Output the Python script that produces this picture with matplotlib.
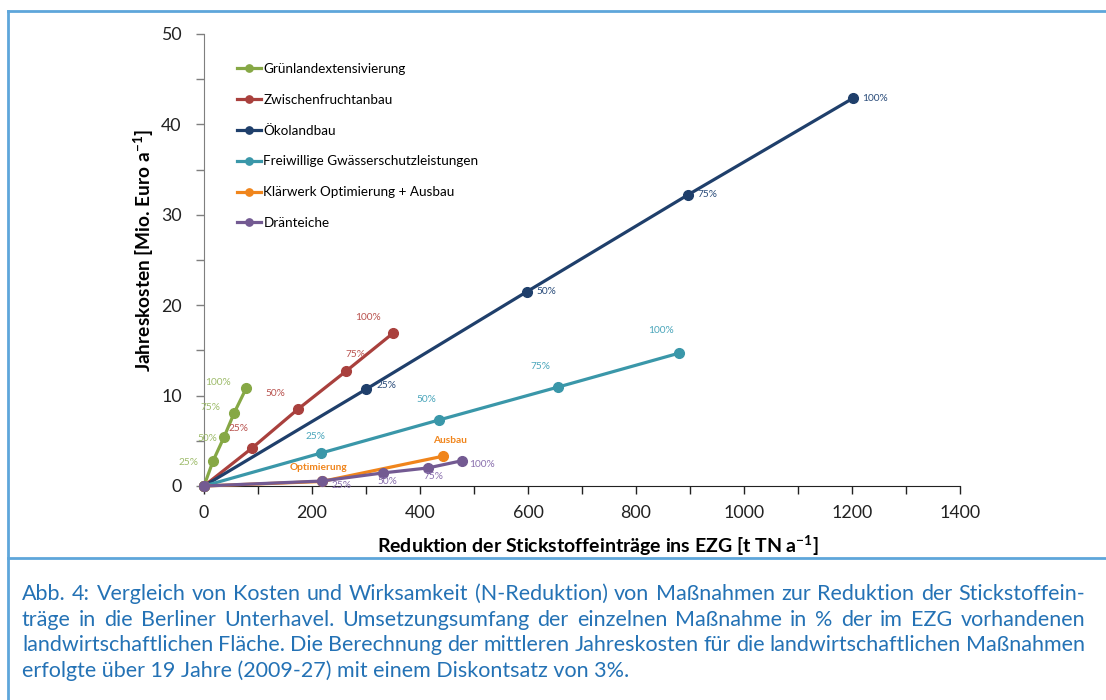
import matplotlib
matplotlib.use("Agg")
import matplotlib.pyplot as plt
from matplotlib.lines import Line2D

plt.rcParams['font.family'] = ['Lato', 'DejaVu Sans']
plt.rcParams['mathtext.fontset'] = 'custom'
plt.rcParams['mathtext.rm'] = 'Lato'
plt.rcParams['mathtext.bf'] = 'Lato:bold'

# data: N-Reduktion [t TN/a] and Jahreskosten [Mio. Euro/a]
series_names = ["Grünlandextensivierung", "Zwischenfruchtanbau", "Ökolandbau",
                "Freiwillige Gwässerschutzleistungen", "Klärwerk Optimierung + Ausbau",
                "Dränteiche"]
gruen_x = [0, 17, 37, 56, 78]
gruen_y = [0, 2.8, 5.4, 8.1, 10.8]
zwisch_x = [0, 89, 174, 263, 350]
zwisch_y = [0, 4.2, 8.5, 12.7, 16.9]
oeko_x = [0, 300, 598, 896, 1202]
oeko_y = [0, 10.7, 21.5, 32.2, 42.9]
frei_x = [0, 217, 435, 656, 880]
frei_y = [0, 3.65, 7.3, 10.95, 14.7]
klaer_x = [0, 218, 443]
klaer_y = [0, 0.5, 3.3]
draen_x = [0, 218, 332, 415, 478]
draen_y = [0, 0.55, 1.45, 2.0, 2.8]
pct_labels = ["25%", "50%", "75%", "100%"]
klaer_labels = ["Optimierung", "Ausbau"]

caption = [
    "Abb. 4: Vergleich von Kosten und Wirksamkeit (N-Reduktion) von Maßnahmen zur Reduktion der Stickstoffein-",
    "träge in die Berliner Unterhavel. Umsetzungsumfang der einzelnen Maßnahme in % der im EZG vorhandenen",
    "landwirtschaftlichen Fläche. Die Berechnung der mittleren Jahreskosten für die landwirtschaftlichen Maßnahmen",
    "erfolgte über 19 Jahre (2009-27) mit einem Diskontsatz von 3%.",
]

line_cols = ["#86A845", "#A9403D", "#1F3F6B", "#3A97A9", "#F0851C", "#735A92"]
lab_cols = ["#9DBB6A", "#B9534F", "#2A4C7A", "#4BA6BB", "#F0851C", "#8A70AE"]

fig = plt.figure(figsize=(11.06, 7.0), dpi=100)
ax = fig.add_axes([204 / 1106, 1 - 486 / 700, 756 / 1106, 452 / 700])

data = [(gruen_x, gruen_y), (zwisch_x, zwisch_y), (oeko_x, oeko_y),
        (frei_x, frei_y), (klaer_x, klaer_y), (draen_x, draen_y)]
for (xs, ys), name, c in zip(data, series_names, line_cols):
    ax.plot(xs, ys, color=c, lw=2.3, marker='o', ms=7, label=name, clip_on=False, zorder=3)

# percent labels (offsets in points)
def pct(xs, ys, offs, col, labels=pct_labels, **kw):
    for x, y, t, o in zip(xs[1:], ys[1:], labels, offs):
        ax.annotate(t, (x, y), xytext=o, textcoords='offset points', color=col,
                    fontsize=7.3, ha='center', va='center', **kw)

pct(gruen_x, gruen_y, [(-18, -1), (-12, -1), (-17, 4), (-20, 4)], lab_cols[0])
pct(zwisch_x, zwisch_y, [(-10, 14), (-16, 11), (7, 12), (-18, 11)], lab_cols[1])
pct(oeko_x, oeko_y, [(15, 3), (14, 0), (14, 0), (16, 0)], lab_cols[2])
pct(frei_x, frei_y, [(-4, 12), (-9, 15), (-13, 15), (-13, 16)], lab_cols[3])
pct(draen_x, draen_y, [(14, -3), (3, -6), (4, -6), (14, -3)], lab_cols[5])
pct(klaer_x, klaer_y, [(-2, 10), (5, 11)], lab_cols[4], labels=klaer_labels,
    fontweight='bold')

ax.set_xlim(0, 1400)
ax.set_ylim(0, 50)
ax.set_xticks(range(0, 1401, 200))
ax.set_xticks(range(0, 1401, 100), minor=True)
ax.set_yticks(range(0, 51, 10))
ax.set_yticks(range(0, 51, 5), minor=True)
ax.tick_params(axis='both', which='both', direction='out', length=6, width=1,
               labelsize=12.8, colors='#222222', pad=4)
ax.tick_params(axis='y', which='both', color='#7F7F7F', pad=10)
ax.tick_params(axis='x', pad=8)
for s in ['top', 'right']:
    ax.spines[s].set_visible(False)
ax.spines['left'].set_color('#7F7F7F')
ax.spines['bottom'].set_color('#222222')

ax.set_xlabel(r"Reduktion der Stickstoffeinträge ins EZG [t TN a$^{\mathbf{-1}}$]",
              fontsize=14, fontweight='bold')
ax.set_ylabel(r"Jahreskosten [Mio. Euro a$^{\mathbf{-1}}$]",
              fontsize=13.8, fontweight='bold')
ax.xaxis.set_label_coords((598 - 204) / 756, -0.104)
ax.yaxis.set_label_coords(-0.064, (486 - 251) / 452)

ax.legend(loc='upper left', bbox_to_anchor=(0.027, 0.963), frameon=False, fontsize=9.7,
          handlelength=1.85, handletextpad=0.15, labelspacing=1.4, markerscale=0.75)

# frame and separator
frame_col = '#5EA6DA'
fig.add_artist(Line2D([8 / 1106, 8 / 1106], [0, 1 - 11 / 700], color=frame_col, lw=2))
fig.add_artist(Line2D([8 / 1106, 1], [1 - 11 / 700, 1 - 11 / 700], color=frame_col, lw=2))
fig.add_artist(Line2D([8 / 1106, 1], [1 - 558 / 700, 1 - 558 / 700], color=frame_col, lw=2))

# caption: font size fitted to the longest line, full lines justified word by word
cap_left, cap_w = 22, 1063
cap_kw = dict(color='#2472B5', ha='left', va='center', family=['Lato', 'DejaVu Sans'])
r = fig.canvas.get_renderer()
probe = fig.text(0, 0, caption[2], fontsize=12, **cap_kw)
fs = 12 * cap_w / probe.get_window_extent(r).width
probe.remove()
for i, line in enumerate(caption):
    y = 1 - (594 + i * 25.5) / 700
    if i == len(caption) - 1:
        fig.text(cap_left / 1106, y, line, fontsize=fs, **cap_kw)
        continue
    words = line.split(" ")
    tw = [fig.text(0, y, w, fontsize=fs, **cap_kw) for w in words]
    widths = [t.get_window_extent(r).width for t in tw]
    gap = (cap_w - sum(widths)) / (len(words) - 1)
    x = cap_left
    for t, w in zip(tw, widths):
        t.set_x(x / 1106)
        x += w + gap

fig.savefig("out.png", dpi=100)
